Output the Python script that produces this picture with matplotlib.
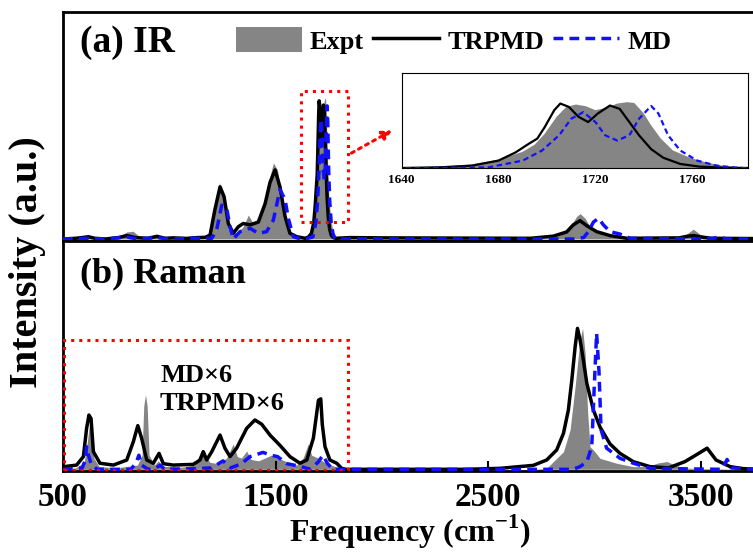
import matplotlib.pyplot as plt
from matplotlib.patches import Rectangle, Patch
from matplotlib.lines import Line2D

plt.rcParams['font.family'] = ['Liberation Serif', 'DejaVu Serif']
plt.rcParams['font.weight'] = 'bold'
plt.rcParams['axes.labelweight'] = 'bold'
plt.rcParams['mathtext.fontset'] = 'custom'
plt.rcParams['mathtext.rm'] = 'Liberation Serif:bold'
plt.rcParams['mathtext.bf'] = 'Liberation Serif:bold'

# IR spectra (normalised)
ir_expt_x = [500, 560, 620, 680, 754, 800, 830, 862, 900, 942, 980, 1050, 1150, 1190, 1215, 1236,
             1262, 1286, 1317, 1348, 1372, 1395, 1427, 1458, 1490, 1509, 1529, 1553, 1576, 1600,
             1620, 1640, 1650, 1660, 1669, 1680, 1690, 1695, 1699, 1704, 1708, 1712, 1716, 1720,
             1725, 1729, 1733, 1736, 1740, 1743, 1747, 1752, 1759, 1766, 1773, 1783, 1800, 2000,
             2700, 2800, 2839, 2886, 2917, 2933, 2957, 2988, 3043, 3100, 3200, 3387, 3430, 3466,
             3500, 3544, 3600, 3761]
ir_expt_y = [0.0, 0.005, 0.015, 0.005, 0.01, 0.05, 0.055, 0.015, 0.01, 0.02, 0.01, 0.01, 0.01, 0.03,
             0.23, 0.40, 0.25, 0.064, 0.04, 0.087, 0.17, 0.11, 0.14, 0.35, 0.54, 0.49, 0.30, 0.11,
             0.04, 0.02, 0.012, 0.01, 0.02, 0.035, 0.06, 0.13, 0.25, 0.36, 0.52, 0.78, 0.93, 0.965,
             0.94, 0.88, 0.92, 0.98, 1.0, 0.99, 0.83, 0.65, 0.45, 0.27, 0.16, 0.086, 0.036, 0.01,
             0.005, 0.0, 0.0, 0.01, 0.028, 0.087, 0.16, 0.18, 0.147, 0.064, 0.028, 0.01, 0.005,
             0.01, 0.03, 0.07, 0.03, 0.01, 0.005, 0.0]

ir_trpmd_x = [500, 560, 600, 619, 650, 700, 760, 801, 840, 900, 942, 980, 1020, 1080, 1130, 1170,
              1192, 1215, 1239, 1258, 1278, 1301, 1325, 1348, 1380, 1419, 1451, 1474, 1498, 1521,
              1545, 1568, 1600, 1640, 1656, 1669, 1680, 1687, 1692, 1696, 1699, 1703, 1705.5, 1709,
              1713, 1717, 1721, 1726, 1730, 1734, 1738, 1743, 1748, 1755, 1763, 1773, 1783, 1850,
              2000, 2700, 2807, 2870, 2901, 2933, 2964, 3011, 3074, 3153, 3400, 3440, 3470, 3500,
              3550, 3761]
ir_trpmd_y = [0.0, 0.005, 0.012, 0.016, 0.005, 0.0, 0.01, 0.024, 0.01, 0.005, 0.019, 0.005, 0.008,
              0.004, 0.01, 0.012, 0.028, 0.21, 0.37, 0.30, 0.11, 0.04, 0.087, 0.11, 0.10, 0.12,
              0.25, 0.40, 0.49, 0.37, 0.16, 0.04, 0.016, 0.005, 0.015, 0.04, 0.117, 0.24, 0.36,
              0.45, 0.62, 0.88, 0.98, 0.93, 0.78, 0.70, 0.83, 0.95, 0.90, 0.70, 0.50, 0.29, 0.16,
              0.066, 0.025, 0.01, 0.005, 0.01, 0.008, 0.005, 0.02, 0.05, 0.10, 0.13, 0.095, 0.052,
              0.024, 0.005, 0.008, 0.02, 0.024, 0.015, 0.005, 0.003]

ir_md_x = [500, 600, 700, 801, 850, 942, 1000, 1100, 1200, 1223, 1247, 1270, 1286, 1301, 1333,
           1380, 1419, 1458, 1490, 1521, 1545, 1560, 1584, 1620, 1640, 1676, 1690, 1698, 1705,
           1710, 1715, 1720, 1724, 1729, 1734, 1738, 1743, 1746, 1750, 1755, 1762, 1770, 1778,
           1783, 2900, 2950, 2972, 2996, 3020, 3043, 3074, 3121, 3168, 3500, 3560, 3591, 3620, 3761]
ir_md_y = [0.0, 0.005, 0.0, 0.014, 0.0, 0.01, 0.0, 0.005, 0.005, 0.064, 0.24, 0.22, 0.087, 0.0,
           0.052, 0.076, 0.04, 0.052, 0.135, 0.35, 0.28, 0.147, 0.016, 0.0, 0.0, 0.015, 0.117,
           0.27, 0.50, 0.75, 0.85, 0.70, 0.50, 0.42, 0.50, 0.75, 0.944, 0.83, 0.50, 0.27, 0.117,
           0.04, 0.01, 0.0, 0.0, 0.01, 0.052, 0.12, 0.147, 0.10, 0.052, 0.035, 0.005, 0.0, 0.005,
           0.016, 0.0, 0.0]

# Raman spectra
ram_expt_x = [500, 560, 600, 615, 627, 635, 645, 670, 750, 800, 850, 872, 880, 888, 896, 905, 930,
              948, 970, 1004, 1060, 1120, 1153, 1165, 1190, 1230, 1270, 1301, 1320, 1340, 1364,
              1385, 1420, 1450, 1480, 1510, 1560, 1600, 1630, 1654, 1670, 1700, 1730, 1760, 1800,
              1850, 2700, 2776, 2823, 2855, 2886, 2910, 2933, 2945, 2957, 2969, 2980, 2996, 3027,
              3105, 3184, 3250, 3300, 3342, 3380, 3420, 3500, 3761]
ram_expt_y = [0.0, 0.01, 0.05, 0.2, 0.35, 0.3, 0.08, 0.02, 0.01, 0.02, 0.03, 0.1, 0.45, 0.53, 0.45,
              0.1, 0.03, 0.06, 0.02, 0.02, 0.015, 0.03, 0.14, 0.13, 0.05, 0.04, 0.08, 0.18, 0.09,
              0.08, 0.13, 0.07, 0.06, 0.08, 0.1, 0.08, 0.05, 0.03, 0.08, 0.18, 0.1, 0.08, 0.05,
              0.03, 0.01, 0.0, 0.0, 0.007, 0.078, 0.125, 0.28, 0.59, 0.92, 1.0, 0.82, 0.40, 0.16,
              0.137, 0.078, 0.043, 0.019, 0.02, 0.045, 0.055, 0.03, 0.01, 0.005, 0.0]

ram_trpmd_x = [500, 564, 596, 611, 622, 632, 643, 674, 737, 800, 831, 852, 870, 894, 925, 952, 972,
               1019, 1113, 1145, 1160, 1176, 1200, 1239, 1262, 1286, 1317, 1364, 1403, 1435, 1474,
               1521, 1568, 1615, 1647, 1678, 1702, 1713, 1720, 1733, 1756, 1788, 1811, 1830, 2400,
               2557, 2713, 2776, 2823, 2855, 2878, 2894, 2910, 2921, 2933, 2946, 2965, 2996, 3027,
               3074, 3121, 3184, 3262, 3350, 3427, 3488, 3531, 3573, 3639, 3700, 3761]
ram_trpmd_y = [0.018, 0.03, 0.09, 0.29, 0.385, 0.36, 0.125, 0.043, 0.03, 0.066, 0.196, 0.31, 0.22,
               0.066, 0.043, 0.113, 0.04, 0.03, 0.035, 0.066, 0.125, 0.066, 0.125, 0.243, 0.15,
               0.09, 0.15, 0.29, 0.35, 0.32, 0.243, 0.17, 0.09, 0.043, 0.066, 0.22, 0.49, 0.5,
               0.32, 0.16, 0.066, 0.043, 0.007, 0.0, 0.0, 0.007, 0.028, 0.066, 0.137, 0.255, 0.42,
               0.63, 0.87, 1.0, 0.92, 0.80, 0.61, 0.42, 0.30, 0.18, 0.113, 0.054, 0.019, 0.01,
               0.055, 0.11, 0.15, 0.066, 0.019, 0.005, 0.0]

ram_md_x = [500, 590, 604, 611, 620, 632, 660, 820, 845, 857, 870, 900, 940, 956, 980, 1130, 1200,
            1253, 1290, 1340, 1380, 1441, 1480, 1510, 1553, 1620, 1662, 1700, 1723, 1745, 1770,
            2900, 2933, 2965, 2988, 3000, 3011, 3022, 3032, 3058, 3121, 3184, 3262, 3600, 3625,
            3645, 3761]
ram_md_y = [0.0, 0.01, 0.06, 0.16, 0.1, 0.04, 0.0, 0.0, 0.05, 0.1, 0.03, 0.0, 0.01, 0.03, 0.0,
            0.005, 0.01, 0.06, 0.01, 0.04, 0.09, 0.12, 0.1, 0.09, 0.04, 0.02, 0.0, 0.05, 0.1, 0.04,
            0.0, 0.0, 0.019, 0.054, 0.16, 0.59, 0.965, 0.70, 0.28, 0.15, 0.078, 0.043, 0.007, 0.0,
            0.07, 0.01, 0.0]

xticks = [500, 1500, 2500, 3500]
inset_ticks = [1640, 1680, 1720, 1760]

gray = '#858585'
blue = '#1010ff'
dash = (0, (2.8, 1.8))

fig = plt.figure(figsize=(7.53, 5.56), dpi=100)
W, H = 753, 556
ax1 = fig.add_axes([63 / W, 1 - 241 / H, (756 - 63) / W, (241 - 12) / H])
ax2 = fig.add_axes([63 / W, 1 - 471 / H, (756 - 63) / W, (471 - 241) / H])

for ax, ex, ey, tx, ty, mx, my in [(ax1, ir_expt_x, ir_expt_y, ir_trpmd_x, ir_trpmd_y, ir_md_x, ir_md_y),
                                   (ax2, ram_expt_x, ram_expt_y, ram_trpmd_x, ram_trpmd_y, ram_md_x, ram_md_y)]:
    ax.fill_between(ex, 0, ey, color=gray, lw=0, zorder=1)
    ax.plot(tx, ty, color='black', lw=2.5, zorder=2)
    ax.plot(mx, my, color=blue, lw=2.5, ls=dash, zorder=3)
    ax.set_xlim(500, 3761)
    for s in ax.spines.values():
        s.set_linewidth(2.0)
    ax.spines['right'].set_visible(False)
    ax.set_yticks([])

ax1.set_ylim(-0.0142, 1.61)
ax2.set_ylim(-0.012, 1.62)
ax1.set_xticks(xticks)
ax1.tick_params(bottom=False, labelbottom=False)
ax2.set_xticks(xticks)
ax2.tick_params(axis='x', direction='in', length=7, width=1.5, labelsize=24, pad=8)
ax2.set_xlabel(r'Frequency (cm$^{\mathbf{-1}}$)', fontsize=23, labelpad=0)
fig.text(28 / W, 1 - 262 / H, 'Intensity (a.u.)', rotation=90, ha='center', va='center', fontsize=29)

ax1.text(0.0245, 0.865, '(a) IR', transform=ax1.transAxes, fontsize=27, va='center', ha='left')
ax2.text(0.0245, 0.857, '(b) Raman', transform=ax2.transAxes, fontsize=26, va='center', ha='left')
ax2.text(0.14, (471 - 375) / 230, 'MD×6', transform=ax2.transAxes, fontsize=19, va='center', ha='left')
ax2.text(0.14, (471 - 404) / 230, 'TRPMD×6', transform=ax2.transAxes, fontsize=19, va='center', ha='left')

# red dotted boxes and arrow
ax1.add_patch(Rectangle((1620, 0.12), 221, 0.93, fill=False, ec='red', lw=2.2, ls=':', zorder=5))
ax2.add_patch(Rectangle((505, -0.005), 1336, 0.925, fill=False, ec='red', lw=2.2, ls=':', zorder=5))
ax1.annotate('', xy=(2060, 0.78), xytext=(1846, 0.60),
             arrowprops=dict(arrowstyle='-|>', color='red', lw=2.2, ls=':', mutation_scale=14))

handles = [Patch(facecolor=gray, edgecolor='none'),
           Line2D([], [], color='black', lw=2.5),
           Line2D([], [], color=blue, lw=2.5, ls=dash)]
fig.legend(handles, ['Expt', 'TRPMD', 'MD'], loc='upper left', bbox_to_anchor=(236 / W, 1 - 27 / H),
           ncol=3, frameon=False, fontsize=19, handlelength=2.5, handleheight=1.1,
           handletextpad=0.3, columnspacing=0.35, borderpad=0, borderaxespad=0)

# inset zoom of the C=O band
axi = fig.add_axes([401.7 / W, 1 - 168.3 / H, (748 - 401.7) / W, (168.3 - 72.7) / H])
axi.fill_between(ir_expt_x, 0, ir_expt_y, color=gray, lw=0, zorder=1)
axi.plot(ir_trpmd_x, ir_trpmd_y, color='black', lw=1.6, zorder=2)
axi.plot(ir_md_x, ir_md_y, color=blue, lw=1.6, ls=(0, (2.5, 1.6)), zorder=3)
axi.set_xlim(1640, 1783)
axi.set_ylim(0, 1.447)
axi.set_xticks(inset_ticks)
axi.set_yticks([])
axi.tick_params(axis='x', length=0, labelsize=9.5, pad=4)
for s in axi.spines.values():
    s.set_linewidth(0.8)

fig.savefig('out.png', dpi=100)
